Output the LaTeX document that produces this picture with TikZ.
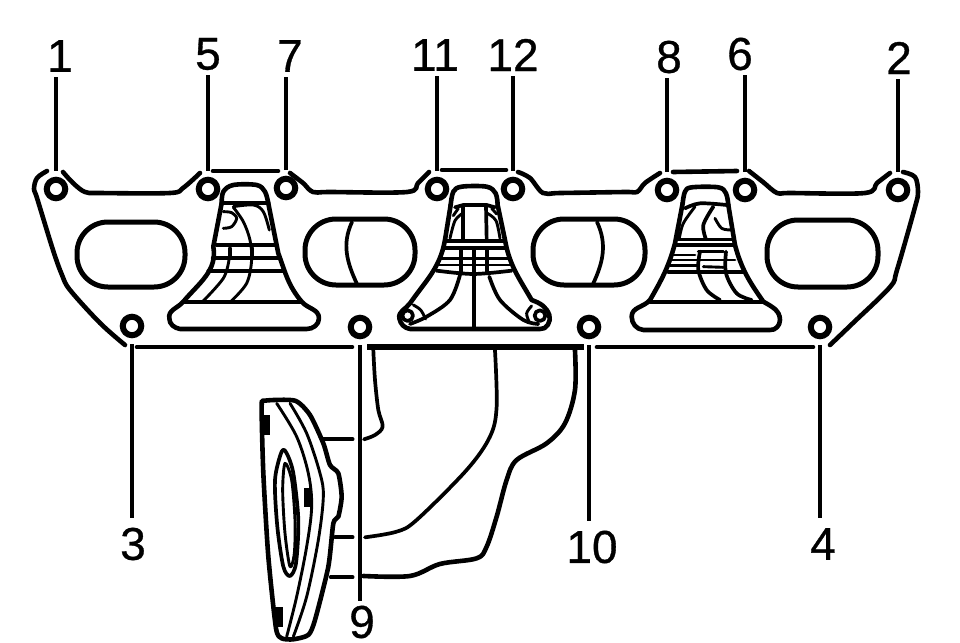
\documentclass[tikz,border=0pt]{standalone}
\usepackage{fontspec}
\setmainfont[FakeBold=0.7]{Liberation Sans}
\tikzset{
 bolt/.style={circle,draw=black,line width=6pt,minimum size=18.5pt,inner sep=0pt,fill=white},
 num/.style={inner sep=0pt,font=\fontsize{46}{46}\selectfont,text=black},
 lead/.style={line width=3.4pt},
 gk/.style={line width=4.6pt,line cap=round,line join=round},
 md/.style={line width=3.7pt,line cap=round,line join=round},
 fn/.style={line width=2.9pt,line cap=round,line join=round},
 port/.style={line width=5pt,rounded corners=31pt},
 sm/.style={smooth,tension=.55},
 zm/.style={x=0.3333pt,y=-0.3333pt},
}
\begin{document}
\begin{tikzpicture}[x=1pt,y=-1pt]
\useasboundingbox (0,0) rectangle (960,642);
\fill[white] (0,0) rectangle (960,642);
% gasket outline
\draw[gk] plot[sm] coordinates {(47,171)(37,178)(34,189)(37,198)(53,250)(62,275)(70,290)(100,323)(125,345)};
\draw[gk] plot[sm] coordinates {(63,172)(73,183)(85,192)(100,193)(170,193)(183,188)(200,173)};
\draw[gk] (213,171) -- (278,171);
\draw[gk] plot[sm] coordinates {(290,173)(303,183)(313,192)(330,192)(407,192)(418,183)(429,172)};
\draw[gk] (442,170) -- (506,170);
\draw[gk] plot[sm] coordinates {(518,172)(530,178)(543,193)(560,193)(625,192)(637,192)(645,183)(660,173)};
\draw[gk] (673,172) -- (737,171);
\draw[gk] plot[sm] coordinates {(749,171)(763,182)(777,193)(790,193)(865,193)(877,183)(890,173)};
\draw[gk] plot[sm] coordinates {(903,172)(915,177)(918,192)(915,207)(897,270)(890,287)(853,323)(830,345)};
\draw[gk] (137,347) -- (352,347);
\draw[line width=6.5pt] (367,347) -- (584,347);
\draw[gk] (597,347) -- (813,347);
% ports
\draw[port] (77,222) rectangle (185,287);
\draw[port] (305,219) rectangle (415,285);
\draw[port] (533,219) rectangle (645,285);
\draw[port] (767,220) rectangle (878,287);
\draw[md] (352,222) to[out=-115,in=115] (357,284);
\draw[md] (597,222) to[out=-65,in=65] (593,284);
% left trumpet
\begin{scope}[xshift=20pt,yshift=-150pt,zm]
\draw[gk] plot[sm] coordinates {(605,160)(610,125)(640,105)(710,105)(735,125)(745,160)};
\draw[gk] (605,160) -- (580,290) to[out=-80,in=50] (490,455) to[out=-130,in=100] (448,505) to[out=-90,in=170] (480,537) -- (860,537) to[out=0,in=-90] (897,505) to[out=90,in=-50] (845,455) to[out=130,in=-70] (775,310) -- (745,160);
\draw[md] (490,455) -- (845,455);
\draw[md] (610,158) -- (745,158);
\draw[md] (590,285) -- (765,285);
\draw[md] (578,325) -- (778,325);
\draw[md] (565,362) -- (790,362);
\draw[md] (630,295) -- (630,322);
\draw[md] (697,295) -- (697,322);
\draw[fn] plot[sm] coordinates {(640,172)(670,215)(690,270)(695,330)(680,400)(632,455)};
\draw[fn] plot[sm] coordinates {(627,330)(610,385)(548,455)};
\draw[fn] plot[sm] coordinates {(640,170)(700,165)(730,185)(748,240)};
\draw[fn] plot[sm] coordinates {(610,185)(635,188)(650,205)(635,230)(610,235)};
\end{scope}
% centre trumpet
\begin{scope}[xshift=330pt,yshift=-150pt,zm]
\draw[gk] plot[sm] coordinates {(362,165)(370,125)(395,110)(470,110)(497,130)(503,165)};
\draw[gk] (362,165) -- (345,270) to[out=-100,in=55] (240,460) to[out=-125,in=100] (208,505) to[out=-80,in=170] (240,537) -- (630,537) to[out=-10,in=-70] (658,495) to[out=110,in=-20] (605,450) to[out=120,in=-80] (525,270) -- (503,165);
\draw[md] (375,172) -- (400,165) -- (470,165) -- (495,172);
\draw[md] (400,170) -- (400,265);
\draw[md] (468,165) -- (470,265);
\draw[md] (350,272) -- (520,272);
\draw[md] (345,295) -- (525,295);
\draw[fn] (335,325) -- (535,325);
\draw[fn] (328,345) -- (540,345);
\draw[md] plot[sm] coordinates {(320,362)(430,372)(545,362)};
\draw[md] (393,297) -- (393,370);
\draw[md] (432,297) -- (432,530);
\draw[md] (470,297) -- (470,370);
\draw[md] plot[sm] coordinates {(390,375)(360,450)(290,500)(240,522)};
\draw[md] plot[sm] coordinates {(478,380)(510,450)(580,510)(625,522)};
\draw[fn] plot[sm] coordinates {(250,465)(272,480)(287,507)};
\draw[fn] plot[sm] coordinates {(605,468)(590,490)(598,517)};
\draw[md] (233,497) circle[radius=16];
\draw[md] (630,497) circle[radius=16];
\draw[fn] (370,197) -- (385,175);
\draw[fn] (485,175) -- (500,192);
\draw[fn] plot[sm] coordinates {(398,190)(375,212)(360,265)};
\draw[fn] plot[sm] coordinates {(472,190)(498,212)(510,265)};
\end{scope}
% right trumpet
\begin{scope}[xshift=620pt,yshift=-150pt,zm]
\draw[gk] plot[sm] coordinates {(188,160)(195,125)(215,112)(295,112)(318,130)(325,165)};
\draw[gk] (188,160) -- (165,280) to[out=-105,in=60] (90,450) to[out=-130,in=90] (35,500) to[out=-90,in=175] (70,540) -- (450,540) to[out=-5,in=-90] (480,510) to[out=90,in=-30] (430,455) to[out=125,in=-75] (345,285) -- (325,165);
\draw[md] (90,455) -- (430,455);
\draw[md] (170,285) -- (340,285);
\draw[fn] (160,315) -- (225,315);
\draw[fn] (235,305) -- (310,305);
\draw[fn] (155,330) -- (345,330);
\draw[fn] (150,347) -- (230,347);
\draw[fn] (250,350) -- (310,352);
\draw[md] (145,365) -- (372,365);
\draw[fn] (175,268) -- (335,268);
\draw[md] plot[sm] coordinates {(240,305)(235,360)(260,420)(300,450)};
\draw[md] plot[sm] coordinates {(318,305)(318,370)(350,430)(395,450)};
\draw[md] plot[sm] coordinates {(195,175)(240,160)(320,165)};
\draw[fn] plot[sm] coordinates {(178,265)(190,220)(225,170)};
\draw[md] plot[sm] coordinates {(280,170)(250,225)(258,268)};
\draw[fn] plot[sm] coordinates {(285,205)(305,235)(335,240)};
\end{scope}
% manifold
\begin{scope}[xshift=240pt,yshift=-340pt,zm]
\draw[md] plot[sm] coordinates {(400,30)(405,120)(415,210)(428,260)(405,285)(372,298)};
\draw[md] (250,298) -- (338,298);
\draw[md] plot[sm] coordinates {(765,30)(770,200)(750,290)(680,390)(530,540)(470,575)(375,592)};
\draw[md] (285,592) -- (338,592);
\draw[gk] plot[sm] coordinates {(1005,30)(1005,150)(975,250)(920,310)(830,360)(800,420)(770,530)(740,620)(710,655)(600,672)(510,708)(370,708)};
\draw[md] (272,712) -- (338,712);
\draw[gk] plot[smooth cycle,tension=.4] coordinates {(65,200)(75,182)(165,182)(210,225)(250,310)(270,375)(295,400)(305,470)(295,530)(280,550)(265,680)(225,840)(205,885)(160,898)(125,895)(108,865)(85,650)(70,400)};
\draw[fn] plot[sm] coordinates {(110,190)(170,290)(205,400)(215,500)(200,620)(170,770)(140,890)};
\draw[fn] plot[sm] coordinates {(150,190)(200,280)(240,400)(250,470)(235,600)(200,770)(160,890)};
\draw[md] plot[smooth cycle,tension=.5] coordinates {(125,335)(105,420)(112,560)(130,680)(150,708)(168,670)(175,540)(160,400)(140,340)};
\draw[fn] plot[smooth cycle,tension=.5] coordinates {(135,370)(128,450)(135,580)(150,680)(163,640)(165,540)(155,420)};
\fill (68,225) rectangle (90,285);
\fill (105,800) rectangle (130,860);
\fill (192,445) rectangle (215,500);
\end{scope}
% bolts
\node[bolt] (b1) at (56,189) {};
\node[bolt] (b5) at (208,189) {};
\node[bolt] (b7) at (286,188) {};
\node[bolt] (b11) at (437,189) {};
\node[bolt] (b12) at (513,189) {};
\node[bolt] (b8) at (667,190) {};
\node[bolt] (b6) at (745,190) {};
\node[bolt] (b2) at (898,190) {};
\node[bolt] (b3) at (132,326) {};
\node[bolt] (b9) at (360,327) {};
\node[bolt] (b10) at (589,327) {};
\node[bolt] (b4) at (820,327) {};
% labels
\node[num] (l1) at (60,56) {1};
\node[num] (l5) at (208,54) {5};
\node[num] (l7) at (290,56) {7};
\node[num] (l11) at (435,55) {11};
\node[num] (l12) at (513,55) {12};
\node[num] (l8) at (669,57) {8};
\node[num] (l6) at (740,54) {6};
\node[num] (l2) at (899,58) {2};
\node[num] (l3) at (133,544) {3};
\node[num] (l9) at (362,622) {9};
\node[num] (l10) at (592,547) {10};
\node[num] (l4) at (823,544) {4};
% leaders
\foreach \n in {1,5,7,11,12,8,6,2}{
 \draw[lead,shorten <=5pt,shorten >=6pt] (l\n.south -| b\n) -- (b\n.north);
}
\foreach \n in {3,10,4}{
 \draw[lead,shorten <=6pt,shorten >=10pt] (b\n.south) -- (l\n.north -| b\n);
}
\draw[lead,shorten <=6pt,shorten >=5pt] (b9.south) -- (l9.north -| b9);
\end{tikzpicture}
\end{document}
